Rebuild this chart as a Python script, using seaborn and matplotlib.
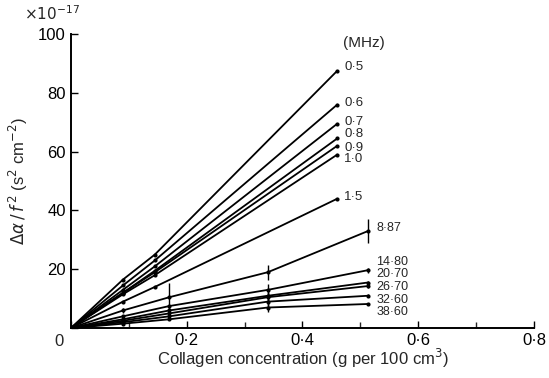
import numpy as np
import pandas as pd
import matplotlib
matplotlib.use("Agg")
import matplotlib.pyplot as plt
import seaborn as sns
from matplotlib.ticker import MultipleLocator, FuncFormatter

# ---- data ----
freqs_low = ["0·5", "0·6", "0·7", "0·8", "0·9", "1·0", "1·5"]
x_low = [0.0, 0.09, 0.145, 0.46]
y_low = {
    "0·5": [0, 16.5, 25.0, 87.5],
    "0·6": [0, 14.5, 23.0, 76.0],
    "0·7": [0, 13.0, 21.0, 69.5],
    "0·8": [0, 12.0, 19.5, 64.5],
    "0·9": [0, 12.0, 19.0, 62.0],
    "1·0": [0, 11.5, 18.0, 59.0],
    "1·5": [0, 9.0, 14.0, 44.0],
}
freqs_high = ["8·87", "14·80", "20·70", "26·70", "32·60", "38·60"]
x_high = [0.0, 0.09, 0.17, 0.34, 0.513]
y_high = {
    "8·87": [0, 6.0, 10.5, 19.0, 33.0],
    "14·80": [0, 4.0, 7.5, 13.0, 19.7],
    "20·70": [0, 3.0, 6.0, 11.0, 15.5],
    "26·70": [0, 2.5, 5.0, 10.5, 14.3],
    "32·60": [0, 2.0, 4.0, 9.0, 11.0],
    "38·60": [0, 1.5, 3.0, 7.0, 8.2],
}
err_high = {
    "8·87": [0, 1.0, 5.0, 2.5, 4.0],
    "14·80": [0, 0, 0, 2.0, 0.8],
    "20·70": [0, 0, 0, 1.5, 0.5],
    "26·70": [0, 0, 0, 1.5, 0.5],
    "32·60": [0, 0, 0, 1.5, 0.5],
    "38·60": [0, 0, 0, 1.5, 0.5],
}
# label vertical offsets in points (layout only)
label_dy = {"0·5": 3, "0·6": 1, "0·7": 1.5, "0·8": 3, "0·9": -1.5, "1·0": -3, "1·5": 1,
            "8·87": 2, "14·80": 5.8, "20·70": 5.8, "26·70": -0.7, "32·60": -2.9, "38·60": -6}

rows = []
for f in freqs_low:
    for xv, yv in zip(x_low, y_low[f]):
        rows.append({"series": f, "conc": xv, "val": yv})
for f in freqs_high:
    for xv, yv in zip(x_high, y_high[f]):
        rows.append({"series": f, "conc": xv, "val": yv})
df = pd.DataFrame(rows)

sns.set_theme(style="ticks")
plt.rcParams["font.family"] = ["Liberation Sans", "DejaVu Sans"]

fig = plt.figure(figsize=(5.49, 3.78), dpi=100)
ax = fig.add_axes([0.129, 0.132, 0.844, 0.778])

order = freqs_low + freqs_high
sns.lineplot(data=df, x="conc", y="val", hue="series", hue_order=order,
             palette={s: "black" for s in order}, legend=False, ax=ax,
             linewidth=1.3, marker="o", markersize=3, markeredgewidth=0,
             estimator=None, sort=False)

for f in freqs_high:
    e = np.array(err_high[f])
    m = e > 0
    ax.errorbar(np.array(x_high)[m], np.array(y_high[f])[m], yerr=e[m], fmt="none",
                ecolor="black", elinewidth=1.0, capsize=0)

for f in freqs_low:
    ax.annotate(f, (x_low[-1], y_low[f][-1]), xytext=(5, label_dy[f]),
                textcoords="offset points", fontsize=9.5, va="center", ha="left")
for f in freqs_high:
    ax.annotate(f, (x_high[-1], y_high[f][-1]), xytext=(6, label_dy[f]),
                textcoords="offset points", fontsize=9, va="center", ha="left")
ax.annotate("(MHz)", (x_low[-1], y_low["0·5"][-1]), xytext=(4, 20),
            textcoords="offset points", fontsize=11, va="center", ha="left")

ax.set_xlim(0, 0.8)
ax.set_ylim(0, 100)
ax.xaxis.set_major_locator(MultipleLocator(0.2))
ax.xaxis.set_minor_locator(MultipleLocator(0.1))
ax.yaxis.set_major_locator(MultipleLocator(20))
ax.xaxis.set_major_formatter(FuncFormatter(lambda v, p: "" if abs(v) < 1e-9 else f"{v:.1f}".replace(".", "·")))
ax.yaxis.set_major_formatter(FuncFormatter(lambda v, p: "" if abs(v) < 1e-9 else f"{v:.0f}"))
ax.tick_params(direction="in", length=5, width=1, labelsize=12, colors="black")
ax.tick_params(which="minor", direction="in", length=4, width=1)
for s in ["top", "right"]:
    ax.spines[s].set_visible(False)
for s in ["left", "bottom"]:
    ax.spines[s].set_linewidth(1.4)
    ax.spines[s].set_color("black")

ax.text(-0.015, -0.02, "0", transform=ax.transAxes, fontsize=12, ha="right", va="top")
ax.text(-0.1, 1.07, r"$\times10^{-17}$", transform=ax.transAxes, fontsize=11, ha="left", va="center")
ax.set_xlabel(r"Collagen concentration (g per 100 cm$^3$)", fontsize=12, labelpad=-1)
ax.set_ylabel(r"$\Delta\alpha\,/\,f^{\,2}$ (s$^2$ cm$^{-2}$)", fontsize=12, labelpad=6)

fig.savefig("out.png", dpi=100)
